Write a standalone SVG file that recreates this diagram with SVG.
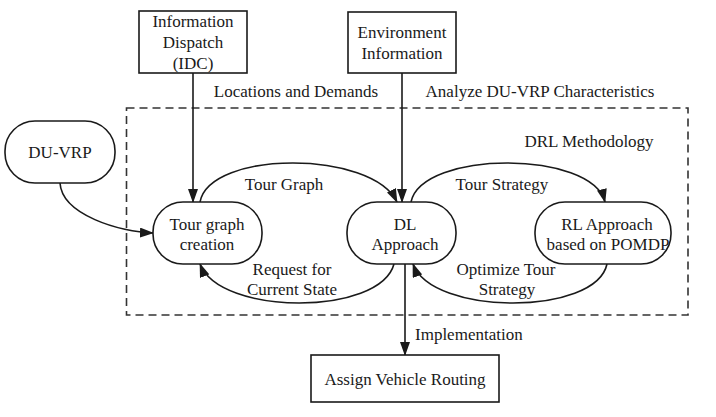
<svg xmlns="http://www.w3.org/2000/svg" width="716" height="417" viewBox="0 0 716 417">
<style>
text{font-family:"Liberation Serif","Times New Roman",serif;font-size:17px;fill:#1a1a1a;text-anchor:middle}
.box{fill:#fff;stroke:#1a1a1a;stroke-width:1.6}
.c{fill:none;stroke:#1a1a1a;stroke-width:1.6}
.l{text-anchor:start}
</style>
<defs>
<marker id="ah" markerUnits="userSpaceOnUse" markerWidth="14" markerHeight="10" refX="13" refY="5" orient="auto">
<path d="M0,0 L14,5 L0,10 Z" fill="#1a1a1a"/>
</marker>
</defs>
<rect x="0" y="0" width="716" height="417" fill="#fff"/>
<rect x="126.5" y="108" width="561.5" height="207" fill="none" stroke="#333" stroke-width="1.6" stroke-dasharray="8,5"/>
<text x="296" y="97">Locations and Demands</text>
<text x="540" y="97">Analyze DU-VRP Characteristics</text>
<text x="589" y="147">DRL Methodology</text>
<g id="connectors">
<path class="c" d="M193,73 L193,202" marker-end="url(#ah)"/>
<path class="c" d="M402,73 L402,202" marker-end="url(#ah)"/>
<path class="c" d="M60,183 C62,215 120,232 153,233" marker-end="url(#ah)"/>
<path class="c" d="M200,202 C210,150 372,150 397,202" marker-end="url(#ah)"/>
<path class="c" d="M411,202 C422,150 592,150 605,202" marker-end="url(#ah)"/>
<path class="c" d="M394,264 C380,316 220,316 200,264" marker-end="url(#ah)"/>
<path class="c" d="M607,264 C596,316 432,316 413,264" marker-end="url(#ah)"/>
<path class="c" d="M405,264 L405,355" marker-end="url(#ah)"/>
<text x="284" y="190">Tour Graph</text>
<text x="502" y="190">Tour Strategy</text>
<text x="292" y="275">Request for</text>
<text x="292" y="295">Current State</text>
<text x="506" y="275">Optimize Tour</text>
<text x="507" y="295">Strategy</text>
<text class="l" x="415" y="340">Implementation</text>
</g>
<g id="idc">
<rect class="box" x="139" y="11" width="108" height="62"/>
<text x="193" y="27">Information</text>
<text x="193" y="48">Dispatch</text>
<text x="193" y="69">(IDC)</text>
</g>
<g id="env">
<rect class="box" x="348" y="12" width="108" height="61"/>
<text x="402" y="38">Environment</text>
<text x="402" y="59">Information</text>
</g>
<g id="duvrp">
<rect class="box" x="5" y="121" width="110" height="62" rx="30" ry="30"/>
<text x="60" y="158">DU-VRP</text>
</g>
<g id="tourgraph">
<rect class="box" x="153" y="202" width="109" height="62" rx="30" ry="30"/>
<text x="207" y="230">Tour graph</text>
<text x="207" y="250">creation</text>
</g>
<g id="dl">
<rect class="box" x="347" y="202" width="109" height="62" rx="30" ry="30"/>
<text x="405" y="230">DL</text>
<text x="405" y="250">Approach</text>
</g>
<g id="rl">
<rect class="box" x="535" y="202" width="136" height="62" rx="30" ry="30"/>
<text x="607" y="230">RL Approach</text>
<text x="608" y="250">based on POMDP</text>
</g>
<g id="assign">
<rect class="box" x="311" y="355" width="188" height="47"/>
<text x="405" y="385">Assign Vehicle Routing</text>
</g>
</svg>
